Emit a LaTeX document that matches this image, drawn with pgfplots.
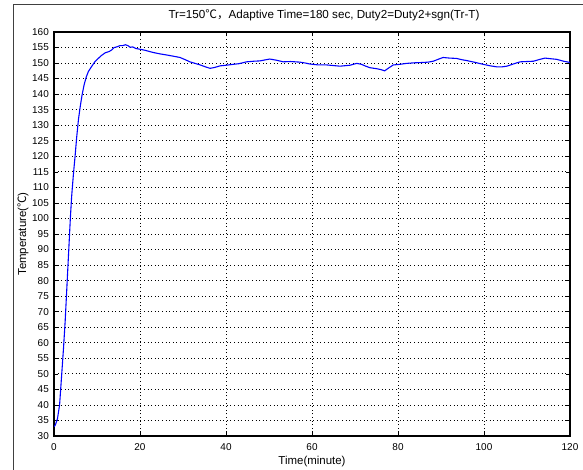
\documentclass[border=0pt]{standalone}
\usepackage{fontspec}
\setmainfont{Liberation Sans}
\newfontfamily\cjk{Noto Sans CJK SC}
\usepackage{pgfplots}
\pgfplotsset{compat=1.18}
\begin{document}
\begin{tikzpicture}
\path[use as bounding box] (0,0) rectangle (583bp,470bp);
\draw[line width=0.8bp, black!75] (13bp,0) -- (13bp,466bp) -- (583bp,466bp);
\begin{axis}[
  at={(54bp,34bp)}, anchor=south west,
  scale only axis, width=516bp, height=404bp,
  xmin=0, xmax=120, ymin=30, ymax=160,
  xtick={0,20,...,120}, ytick={30,35,...,160},
  grid=major, grid style={dash pattern=on 1bp off 2.6bp, black, line width=0.7pt},
  tick align=inside, tick pos=both, major tick length=4bp,
  tick style={black, line width=0.6pt},
  axis line style={line width=1.1bp, black},
  ticklabel style={font=\fontsize{10}{12}\selectfont},
  /pgf/number format/assume math mode=true,
  /pgf/number format/1000 sep={},
  xticklabel style={inner sep=0pt, yshift=-7bp},
  yticklabel style={inner sep=0pt, xshift=-5bp},
  title={Tr=150{\cjk ℃，}Adaptive Time=180 sec, Duty2=Duty2+sgn(Tr-T)},
  title style={font=\fontsize{11.7}{13}\selectfont, at={(axis description cs:0.5,1)}, anchor=center, inner sep=0pt, yshift=11bp, xshift=12bp},
  xlabel={Time(minute)},
  xlabel style={font=\fontsize{11.5}{13}\selectfont, at={(axis description cs:0.5,0)}, anchor=center, inner sep=0pt, yshift=-25.5bp},
  ylabel={Temperature({\cjk ℃})},
  ylabel style={font=\fontsize{11.5}{13}\selectfont, at={(axis description cs:-0.060,0.5)}, anchor=center, inner sep=0pt},
]
\addplot[color={rgb,255:red,0;green,0;blue,255}, line width=1.1pt] coordinates {
(0,33) (0.3,33.5) (0.8,35.5) (1.3,40) (1.8,50) (2.2,58) (2.6,67) (3.0,78) (3.4,89) (3.8,100)
(4.1,107) (4.5,114) (4.9,120) (5.3,126.5) (5.7,132) (6.1,136) (6.5,139.5) (7.0,143) (7.5,145.5)
(8.0,147.3) (8.8,149) (9.5,150.4) (10.3,151.5) (11.0,152.4) (11.9,153.3) (12.8,153.7) (13.4,154.2)
(14.0,155.0) (14.6,155.2) (15.3,155.6) (16.0,155.6) (16.6,155.9) (17.2,155.6) (17.7,155.1)
(18.3,155.2) (19.0,154.7) (20.2,154.4) (21.2,154.1) (22.0,153.8) (23.1,153.4) (24.5,153.0)
(26.2,152.6) (27.8,152.2) (29.3,151.8) (30.5,151.1) (31.6,150.4) (32.8,149.9) (34.0,149.4)
(35.2,148.8) (36.3,148.3) (37.4,148.6) (38.6,149.1) (40.0,149.3) (41.7,149.6) (43.0,149.8)
(44.8,150.4) (46.5,150.6) (47.9,150.7) (49.0,151.0) (50.2,151.3) (51.8,150.9) (53.3,150.4)
(55.0,150.5) (57.2,150.3) (58.5,150.0) (59.5,149.7) (61.5,149.4) (63.4,149.4) (65.0,149.2)
(66.5,149.0) (68.8,149.3) (70.4,149.9) (71.5,149.6) (72.5,149.0) (73.5,148.5) (75.0,148.2)
(76.0,147.9) (76.9,147.5) (77.8,148.4) (78.9,149.4) (80.5,149.6) (82.0,149.9) (84.0,150.1)
(85.9,150.2) (87.0,150.3) (88.2,150.6) (89.5,151.3) (90.5,151.8) (92.0,151.6) (93.6,151.5)
(94.8,151.1) (96.0,150.8) (98.0,150.2) (99.8,149.6) (101.5,149.1) (102.9,148.8) (104.3,148.8)
(105.3,149.0) (106.8,149.7) (108.4,150.4) (110.0,150.5) (111.5,150.6) (113.0,151.2)
(114.2,151.6) (115.5,151.4) (116.9,151.2) (118.5,150.6) (120,150.2)
};
\end{axis}
\end{tikzpicture}
\end{document}
